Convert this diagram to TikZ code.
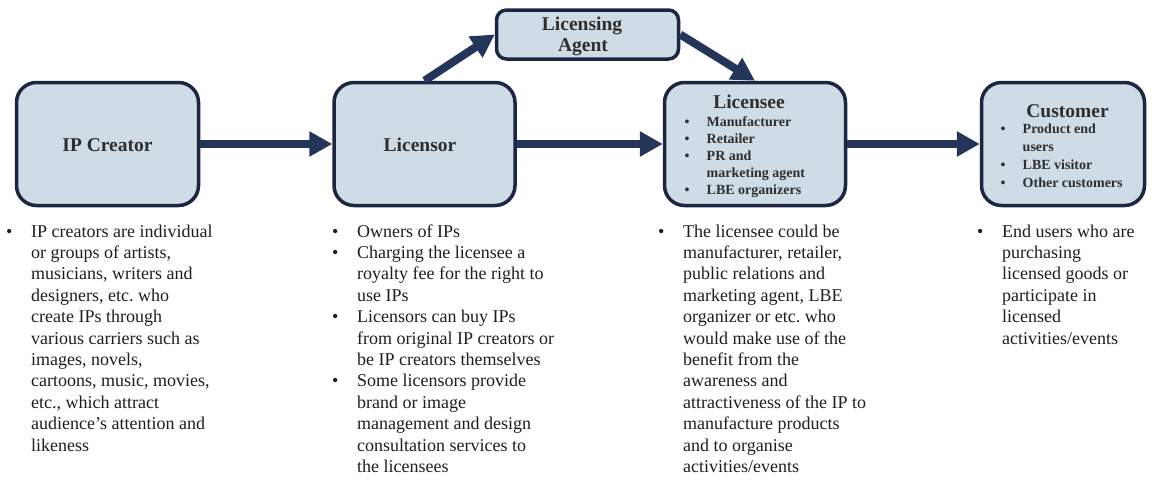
\documentclass[tikz,border=0pt]{standalone}
\usepackage{fontspec}
\setmainfont{Liberation Serif}
\usetikzlibrary{arrows.meta}
\definecolor{boxfill}{HTML}{CFDBE5}
\definecolor{boxline}{HTML}{1C2541}
\definecolor{arrowc}{HTML}{233559}
\definecolor{ttl}{HTML}{2E2E2E}
\definecolor{bodyc}{HTML}{1E1E1E}
\frenchspacing
\newcommand{\bodylist}[1]{\fontsize{18}{21.4}\selectfont\begin{tabular}[t]{@{}p{25pt}@{}l@{}}#1\end{tabular}}
\newcommand{\boxlist}[1]{\begin{tabular}[t]{@{}p{22pt}@{}l@{}}#1\end{tabular}}
\begin{document}
\begin{tikzpicture}[x=1pt,y=-1pt,
  box/.style={draw=boxline, line width=3.5pt, fill=boxfill, rounded corners=20pt, inner sep=0pt},
  flow/.style={draw=arrowc, line width=8pt, -{Triangle[length=23pt,width=24pt]}},
  title/.style={font=\bfseries\fontsize{19.5}{22}\selectfont, text=ttl, inner sep=0pt, anchor=base},
  sublist/.style={font=\bfseries\fontsize{14}{17}\selectfont, text=ttl, inner sep=0pt, anchor=base west},
  bodytext/.style={text=bodyc, inner sep=0pt, anchor=base west}]
\useasboundingbox (0,0) rectangle (1158,479);

% boxes
\node[box, minimum width=182pt, minimum height=123pt] (ipc) at (107.5,144) {};
\node[box, minimum width=181pt, minimum height=123pt] (lsr) at (424.5,144) {};
\node[box, minimum width=182pt, minimum height=49pt, rounded corners=10pt] (agt) at (587.5,34.5) {};
\node[box, minimum width=181pt, minimum height=123pt] (lse) at (755,144) {};
\node[box, minimum width=163pt, minimum height=123pt] (cus) at (1063,144) {};

% titles
\node[title] (tipc) at (107.5,151.5) {IP Creator};
\node[title] (tlsr) at (420,151.5) {Licensor};
\node[title] (tagt1) at (582,30) {Licensing};
\node[title] (tagt2) at (583,51.5) {Agent};
\node[title] (tlse) at (749,108) {Licensee};
\node[title] (tcus) at (1067.5,117) {Customer};

% box lists
\node[sublist] (llse) at (684.5,126.5) {\fontsize{14}{17}\selectfont\boxlist{%
\textbullet & Manufacturer\\
\textbullet & Retailer\\
\textbullet & PR and\\
 & marketing agent\\
\textbullet & LBE organizers}};
\node[sublist] (lcus) at (1000.5,133.5) {\fontsize{14}{18}\selectfont\boxlist{%
\textbullet & Product end\\
 & users\\
\textbullet & LBE visitor\\
\textbullet & Other customers}};

% connectors
\draw[flow] (ipc.east) -- (lsr.west);
\draw[flow] (lsr.east) -- (lse.west);
\draw[flow] (lse.east) -- (cus.west);
\draw[flow] (lsr.north) -- (agt.west);
\draw[flow] (agt.east) -- (lse.north);

% descriptions
\node[bodytext] (d1) at (6,237) {\bodylist{%
\textbullet & IP creators are individual\\
 & or groups of artists,\\
 & musicians, writers and\\
 & designers, etc. who\\
 & create IPs through\\
 & various carriers such as\\
 & images, novels,\\
 & cartoons, music, movies,\\
 & etc., which attract\\
 & audience’s attention and\\
 & likeness}};
\node[bodytext] (d2) at (332,237) {\bodylist{%
\textbullet & Owners of IPs\\
\textbullet & Charging the licensee a\\
 & royalty fee for the right to\\
 & use IPs\\
\textbullet & Licensors can buy IPs\\
 & from original IP creators or\\
 & be IP creators themselves\\
\textbullet & Some licensors provide\\
 & brand or image\\
 & management and design\\
 & consultation services to\\
 & the licensees}};
\node[bodytext] (d3) at (658,237) {\bodylist{%
\textbullet & The licensee could be\\
 & manufacturer, retailer,\\
 & public relations and\\
 & marketing agent, LBE\\
 & organizer or etc. who\\
 & would make use of the\\
 & benefit from the\\
 & awareness and\\
 & attractiveness of the IP to\\
 & manufacture products\\
 & and to organise\\
 & activities/events}};
\node[bodytext] (d4) at (977,237) {\bodylist{%
\textbullet & End users who are\\
 & purchasing\\
 & licensed goods or\\
 & participate in\\
 & licensed\\
 & activities/events}};
\end{tikzpicture}
\end{document}
